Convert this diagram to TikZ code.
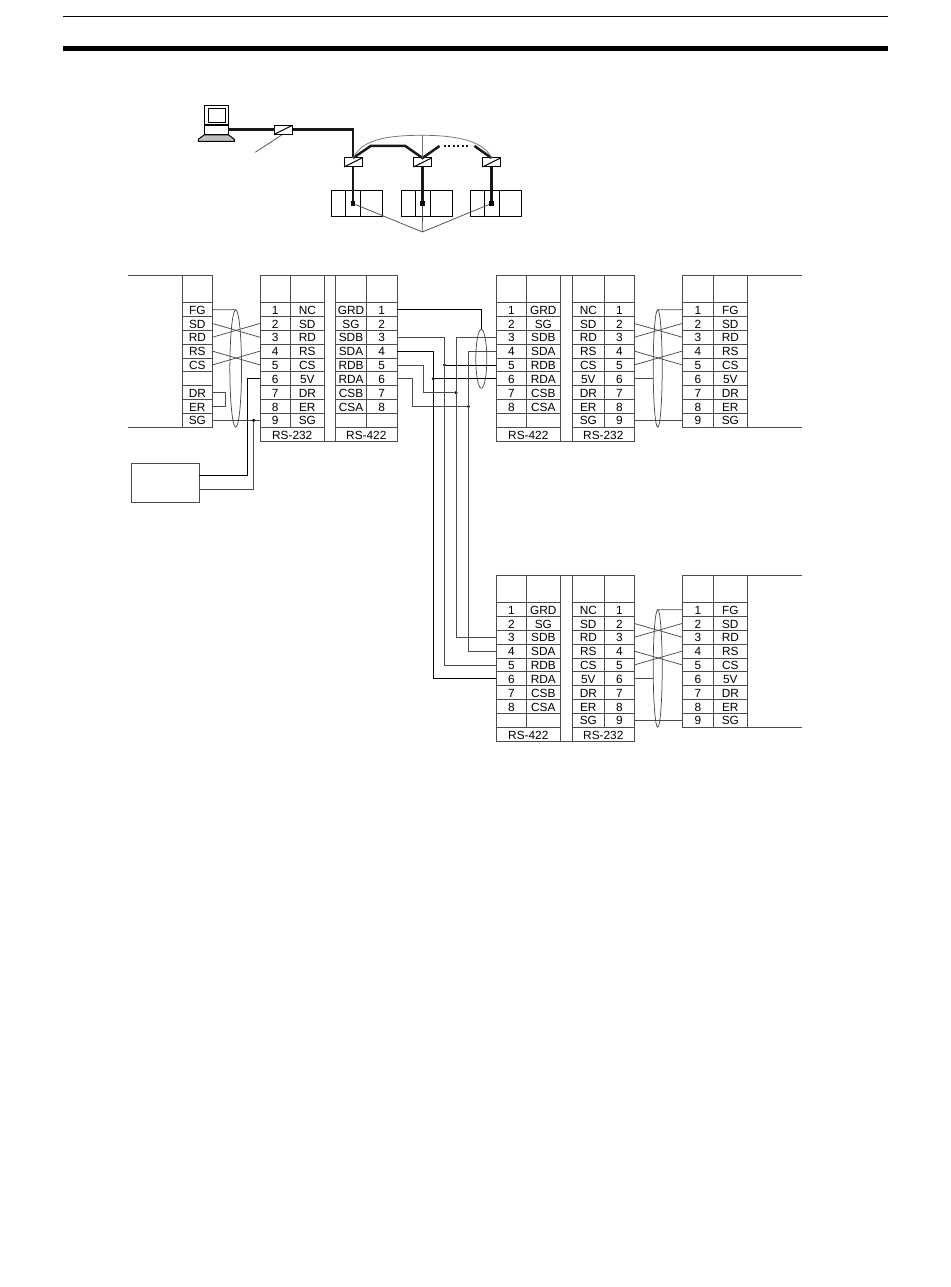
\documentclass[tikz,border=0pt]{standalone}
\usepackage{fontspec}
\setmainfont{Liberation Sans}
\usepackage{tikz}
\usetikzlibrary{shapes, positioning, calc}

\begin{document}
\begin{tikzpicture}[x=0.6pt,y=-0.6pt,
    thin line/.style={line width=0.45pt,draw=black!70},
    thick line/.style={line width=1.5pt,draw=black!90},
    cell/.style={thin line,rectangle,inner sep=0,outer sep=0,minimum width={(#1)*0.6pt},minimum height=8.3pt,text height=5.6pt,text depth=0pt,font=\fontsize{7.1}{8}\selectfont,text=black},
    cable/.style={thin line,ellipse,inner sep=0,outer sep=0,minimum width={(#1)*0.6pt}},
    conv/.style={thin line,line width=0.6pt,draw=black,rectangle,inner sep=0,outer sep=0,minimum width=10.8pt,minimum height=5.4pt},
    dot/.style={circle,fill=black,inner sep=0,outer sep=0,minimum size=2pt}]
    \useasboundingbox (0,0) rectangle (950,1287);

    \def\rowh{13.83}
    \def\pincol#1#2#3#4#5{
      \draw[thin line] (#2,#4-27.7) rectangle (#3,#4);
      \foreach \t [count=\i] in {#5}
      \node[cell=#3-#2] (#1\i) at ({(#2+#3)/2},{#4+(\i-0.5)*\rowh}) {\t};
    }

    % Page rules
    \draw[line width=0.7pt] (63,16.7) -- (888,16.7);
    \draw[line width=2.8pt] (63,48.7) -- (888,48.7);

    % Computer
    \draw[line width=0.6pt] (204,105.3) rectangle (228.7,124.3);
    \draw[line width=0.6pt] (208,108.3) rectangle (225.3,122.3);
    \draw[line width=0.6pt] (204,126) rectangle (228.7,135);
    \draw[line width=0.6pt,fill=black!25] (204,135) -- (228.7,135) -- (234.3,139.3) -- (234.3,141.3) -- (198.3,141.3) -- (198.3,139.3) -- cycle;
    \coordinate (pc) at (228.7,129.7);

    % Link adapters
    \node[conv] (conv0) at (283.7,129.7) {};
    \node[conv] (convA) at (353,162.5) {};
    \node[conv] (convB) at (422.5,162.5) {};
    \node[conv] (convC) at (491.5,162.5) {};
    \foreach \c in {conv0,convA,convB,convC}
    \draw[line width=0.6pt] (\c.south west) -- (\c.north east);
    \coordinate (note) at (255.3,152.3);
    \draw[thin line] (note) -- (281.7,135);

    % Bus
    \draw[thick line] (pc) -- (conv0.west);
    \draw[thick line] (conv0.east) -| (convA.north);
    \draw[thick line] (convA.north) -- ++(17.7,-12) -- ++(34.6,0) -- (convB.north) -- ++(17,-12);
    \draw[thick line,dash pattern=on 1.3pt off 1.4pt] ($(convB.north)+(21,-12)$) -- ($(convC.north)+(-21,-12)$);
    \draw[thick line] (convC.north) -- ++(-17,-12);
    \coordinate (apex) at (422.5,135.3);
    \draw[thin line,draw=black!55] (convA.north) .. controls (362,140) and (385,135.3) .. (apex) .. controls (460,135.3) and (484,142) .. (convC.north);
    \draw[thin line,draw=black!55] (apex) -- (convB.north);

    % PCs on the bus
    \foreach \u/\x in {1/331.3,2/401.3,3/470.3}{
      \node[cell=14.4,minimum height=15.8pt,line width=0.6pt,draw=black] (plc\u a) at (\x+7.2,203.5) {};
      \node[cell=14.7,minimum height=15.8pt,line width=0.6pt,draw=black,right=0pt of plc\u a] (plc\u b) {};
      \node[cell=22,minimum height=15.8pt,line width=0.6pt,draw=black,right=0pt of plc\u b] (plc\u c) {};
    }
    \coordinate (hub) at (422.3,232);
    \foreach \u/\c in {1/convA,2/convB,3/convC}{
      \node[rectangle,fill=black,inner sep=0,minimum size=2.6pt] (tap\u) at (\c |- plc1a) {};
      \draw[thick line] (\c.south) -- (tap\u);
      \draw[thin line] (hub) -- (tap\u);
    }

    % Upper row
    \pincol{dLb}{182.3}{212.3}{302.7}{FG,SD,RD,RS,CS,{},DR,ER,SG}
    \draw[thin line] (128,275) -- (182.3,275);
    \draw[thin line] (128,427.2) -- (182.3,427.2);

    \pincol{cLa}{260}{290.3}{302.7}{1,2,3,4,5,6,7,8,9}
    \pincol{cLb}{290.3}{324.3}{302.7}{NC,SD,RD,RS,CS,5V,DR,ER,SG}
    \pincol{cLc}{335.7}{366.3}{302.7}{GRD,SG,SDB,SDA,RDB,RDA,CSB,CSA,{}}
    \pincol{cLd}{366.3}{397}{302.7}{1,2,3,4,5,6,7,8,{}}
    \node[cell=64.3] (fLa) at (292.2,434.4) {RS-232};
    \node[cell=61.3] (fLb) at (366.3,434.4) {RS-422};
    \draw[thin line] (260,275) rectangle (397,441.3);

    \pincol{cRa}{496.3}{526.3}{302.7}{1,2,3,4,5,6,7,8,{}}
    \pincol{cRb}{526.3}{560.3}{302.7}{GRD,SG,SDB,SDA,RDB,RDA,CSB,CSA,{}}
    \pincol{cRc}{572.3}{604.3}{302.7}{NC,SD,RD,RS,CS,5V,DR,ER,SG}
    \pincol{cRd}{604.3}{634.3}{302.7}{1,2,3,4,5,6,7,8,9}
    \node[cell=64] (fRa) at (528.3,434.4) {RS-422};
    \node[cell=62] (fRb) at (603.3,434.4) {RS-232};
    \draw[thin line] (496.3,275) rectangle (634.3,441.3);

    \pincol{dRa}{682.3}{713.3}{302.7}{1,2,3,4,5,6,7,8,9}
    \pincol{dRb}{713.3}{747.3}{302.7}{FG,SD,RD,RS,CS,5V,DR,ER,SG}
    \draw[thin line] (747.3,275) -- (802,275);
    \draw[thin line] (747.3,427.2) -- (802,427.2);

    % Lower row
    \pincol{cSa}{496.3}{526.3}{602.7}{1,2,3,4,5,6,7,8,{}}
    \pincol{cSb}{526.3}{560.3}{602.7}{GRD,SG,SDB,SDA,RDB,RDA,CSB,CSA,{}}
    \pincol{cSc}{572.3}{604.3}{602.7}{NC,SD,RD,RS,CS,5V,DR,ER,SG}
    \pincol{cSd}{604.3}{634.3}{602.7}{1,2,3,4,5,6,7,8,9}
    \node[cell=64] (fSa) at (528.3,734.4) {RS-422};
    \node[cell=62] (fSb) at (603.3,734.4) {RS-232};
    \draw[thin line] (496.3,575) rectangle (634.3,741.3);

    \pincol{dSa}{682.3}{713.3}{602.7}{1,2,3,4,5,6,7,8,9}
    \pincol{dSb}{713.3}{747.3}{602.7}{FG,SD,RD,RS,CS,5V,DR,ER,SG}
    \draw[thin line] (747.3,575) -- (802,575);
    \draw[thin line] (747.3,727.2) -- (802,727.2);

    % Left cable
    \node[cable=11.7,minimum height=70.4pt] (shieldL) at (235.7,368.5) {};
    \draw[thin line] (dLb1.east) -- (shieldL.north);
    \draw[thin line] (dLb2.east) -- (cLa3.west);
    \draw[thin line] (dLb3.east) -- (cLa2.west);
    \draw[thin line] (dLb4.east) -- (cLa5.west);
    \draw[thin line] (dLb5.east) -- (cLa4.west);
    \draw[thin line] (dLb7.east) -- ++(12.7,0) |- (dLb8.east);
    \draw[thin line] (dLb9.east) -- (cLa9.west);

    % 5 V supply
    \node[cell=67.6,minimum height=23.6pt] (psu) at (165.5,483) {};
    \coordinate (psuA) at (199.3,475.5);
    \coordinate (psuB) at (199.3,489);
    \node[dot] (sgdot) at (253.7,420.3) {};
    \draw[thin line,draw=black] (cLa6.west) -- ++(-12.3,0) |- (psuA);
    \draw[thin line] (sgdot) |- (psuB);

    % Middle wires
    \coordinate (busA) at (433.3,500);
    \coordinate (busB) at (444.5,500);
    \coordinate (busC) at (456,500);
    \coordinate (busD) at (468.5,500);
    \node[cable=11,minimum height=35.4pt] (shieldM) at (481.3,358.8) {};
    \draw[thin line,draw=black] (cLd1.east) -| (shieldM.north);

    \node[dot] (dotB) at (busB |- cRa5.west) {};
    \node[dot] (dotA) at (busA |- cRa6.west) {};
    \node[dot] (dotC) at (busC |- cRa7.west) {};
    \node[dot] (dotD) at (busD |- cRa8.west) {};
    \draw[thin line] (cLd3.east) -| (busB |- cSa5.west) -- (cSa5.west);
    \draw[thin line,draw=black] (dotB) -- (cRa5.west);
    \draw[thin line,draw=black] (cLd4.east) -| (busA |- cSa6.west) -- (cSa6.west);
    \draw[thin line,draw=black] (dotA) -- (cRa6.west);
    \draw[thin line] (cRa3.west) -| (busC |- cSa3.west) -- (cSa3.west);
    \draw[thin line] (cRa4.west) -| (busD |- cSa4.west) -- (cSa4.west);
    \draw[thin line] (cLd5.east) -- ++(26.3,0) |- (dotC);
    \draw[thin line] (cLd6.east) -- ++(15.7,0) |- (dotD);

    % Right cables
    \node[cable=9,minimum height=70.4pt] (shieldR) at (657.7,368.5) {};
    \draw[thin line] (dRa1.west) -- (shieldR.north);
    \draw[thin line] (cRd2.east) -- (dRa3.west);
    \draw[thin line] (cRd3.east) -- (dRa2.west);
    \draw[thin line] (cRd4.east) -- (dRa5.west);
    \draw[thin line] (cRd5.east) -- (dRa4.west);
    \draw[thin line] (cRd6.east) -- (shieldR.west |- cRd6.east);
    \draw[thin line] (cRd9.east) -- (dRa9.west);

    \node[cable=9,minimum height=70.4pt] (shieldS) at (657.7,668.5) {};
    \draw[thin line] (dSa1.west) -- (shieldS.north);
    \draw[thin line] (cSd2.east) -- (dSa3.west);
    \draw[thin line] (cSd3.east) -- (dSa2.west);
    \draw[thin line] (cSd4.east) -- (dSa5.west);
    \draw[thin line] (cSd5.east) -- (dSa4.west);
    \draw[thin line] (cSd6.east) -- (shieldS.west |- cSd6.east);
    \draw[thin line] (cSd9.east) -- (dSa9.west);
  \end{tikzpicture}
\end{document}
